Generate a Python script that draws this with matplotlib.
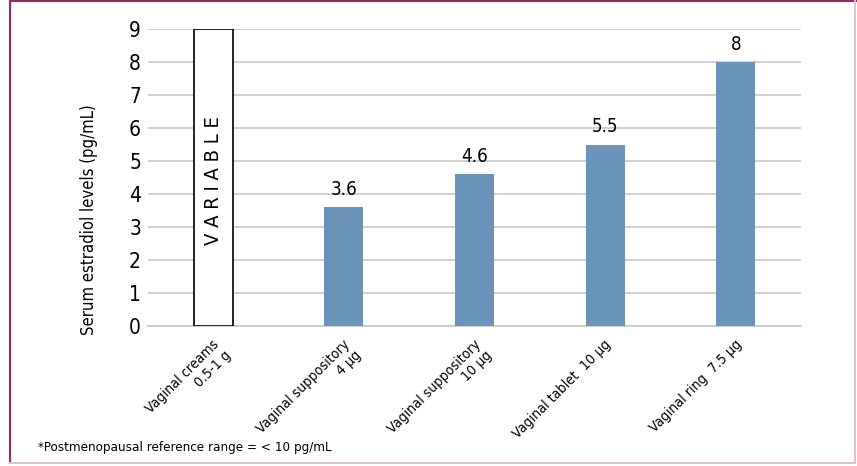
import matplotlib.pyplot as plt
from matplotlib import transforms
import numpy as np

plt.rcParams['font.family'] = ['DejaVu Sans']
plt.rcParams['font.stretch'] = 'condensed'

categories = ['Vaginal creams\n0.5-1 g', 'Vaginal suppository\n4 µg',
              'Vaginal suppository\n10 µg', 'Vaginal tablet  10 µg',
              'Vaginal ring  7.5 µg']
values = [9, 3.6, 4.6, 5.5, 8]
labels = ['', '3.6', '4.6', '5.5', '8']
yticks = [0, 1, 2, 3, 4, 5, 6, 7, 8, 9]

fig = plt.figure(figsize=(8.57, 4.66), dpi=100)
ax = fig.add_axes([148/857, 1-326/466, 653/857, 297/466])

x = np.arange(len(categories))
face = ['white'] + ['#6a93b9'] * 4
edge = ['black'] + ['none'] * 4
ax.bar(x, values, width=0.3, color=face, edgecolor=edge, linewidth=1.2, zorder=3)

for i in range(1, len(values)):
    ax.text(x[i], values[i] + 0.25, labels[i], ha='center', va='bottom', fontsize=13.5)
ax.text(x[0], 4.4, 'V A R I A B L E', rotation=90, ha='center', va='center', fontsize=14.5)

ax.set_xlim(-0.5, len(categories) - 0.5)
ax.set_ylim(0, 9)
ax.set_yticks(yticks)
ax.tick_params(axis='y', length=0, labelsize=15, pad=5)
ax.tick_params(axis='x', length=0, pad=8)
ax.set_xticks(x)
ax.set_xticklabels(categories, rotation=45, ha='right', va='top',
                   rotation_mode='anchor', fontsize=10.2, multialignment='right')
for lab in ax.get_xticklabels():
    lab.set_transform(lab.get_transform() + transforms.ScaledTranslation(-0.01, 0, fig.dpi_scale_trans))
ax.grid(axis='y', color='#c8c8c8', linewidth=1.2, zorder=0)
for s in ['top', 'right', 'left']:
    ax.spines[s].set_visible(False)
ax.spines['bottom'].set_color('#c8c8c8')
ax.spines['bottom'].set_linewidth(1.2)
ax.set_ylabel('Serum estradiol levels (pg/mL)', fontsize=12)
ax.yaxis.set_label_coords(-0.077, 0.357)

fig.text(38/857, 1-447/466, '*Postmenopausal reference range = < 10 pg/mL', fontsize=9.6,
         ha='left', va='center')

# frame around the figure
fig.add_artist(plt.Line2D([10/857, 1], [0.998, 0.998], color='#9b2a5e', linewidth=1.5, transform=fig.transFigure))
fig.add_artist(plt.Line2D([10/857, 10/857], [3/466, 1], color='#9b2a5e', linewidth=1.5, transform=fig.transFigure))
fig.add_artist(plt.Line2D([855/857, 855/857], [3/466, 1], color='#e0c0cc', linewidth=1.5, transform=fig.transFigure))
fig.add_artist(plt.Line2D([10/857, 855/857], [3/466, 3/466], color='#e0c0cc', linewidth=1.5, transform=fig.transFigure))

fig.savefig('out.png', dpi=100)
